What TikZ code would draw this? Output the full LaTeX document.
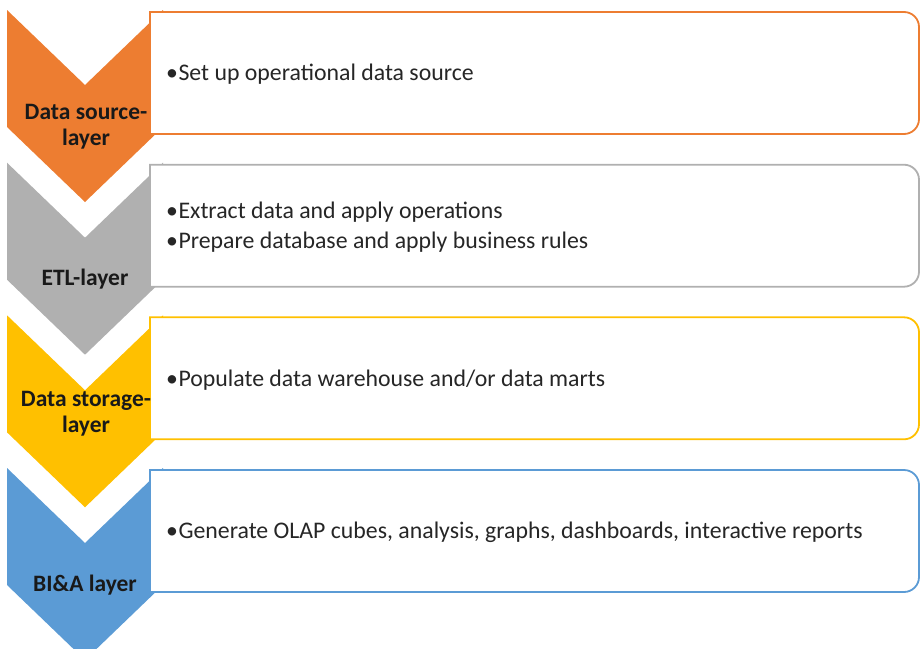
\documentclass[tikz,border=0pt]{standalone}
\usepackage{fontspec}
\setmainfont{Carlito}
\usepackage{tikz}
\usetikzlibrary{positioning, calc}
\definecolor{srcorange}{HTML}{ED7D31}
\definecolor{etlgray}{HTML}{B0B0B0}
\definecolor{storeyellow}{HTML}{FFC000}
\definecolor{biblue}{HTML}{5B9BD5}

\begin{document}
\begin{tikzpicture}[x=1pt,y=-1pt]
	\def \rowone{10}
	\def \rowtwo{162.7}
	\def \rowthree{315.3}
	\def \rowfour{468}
	\def \boxl{150}
	\def \boxr{919}
	\tikzstyle{l-box}=[fill=white,line width=1.8pt]
	\tikzstyle{l-lbl}=[text centered,align=center,font=\fontsize{23.5}{26}\selectfont\bfseries,inner sep=0pt,text=black!90]
	\tikzstyle{b-txt}=[anchor=west,font=\fontsize{23.8}{30}\selectfont,align=left,inner sep=0pt,text=black!85]
	\useasboundingbox (0,0) rectangle (921,648);

	% chevrons
	\fill[srcorange] (7,\rowone) -- (85,\rowone+75) -- (163,\rowone) -- (163,\rowone+117) -- (85,\rowone+192) -- (7,\rowone+117) -- cycle;
	\fill[etlgray] (7,\rowtwo) -- (85,\rowtwo+75) -- (163,\rowtwo) -- (163,\rowtwo+117) -- (85,\rowtwo+192) -- (7,\rowtwo+117) -- cycle;
	\fill[storeyellow] (7,\rowthree) -- (85,\rowthree+75) -- (163,\rowthree) -- (163,\rowthree+117) -- (85,\rowthree+192) -- (7,\rowthree+117) -- cycle;
	\fill[biblue] (7,\rowfour) -- (85,\rowfour+75) -- (163,\rowfour) -- (163,\rowfour+117) -- (85,\rowfour+192) -- (7,\rowfour+117) -- cycle;

	% boxes
	\draw[l-box,draw=srcorange] (\boxl,\rowone+2) -- (500,\rowone+2) [rounded corners=15] -- (\boxr,\rowone+2) -- (\boxr,\rowone+124) -- (500,\rowone+124) [sharp corners] -- (\boxl,\rowone+124) -- cycle;
	\draw[l-box,draw=etlgray] (\boxl,\rowtwo+2) -- (500,\rowtwo+2) [rounded corners=15] -- (\boxr,\rowtwo+2) -- (\boxr,\rowtwo+124) -- (500,\rowtwo+124) [sharp corners] -- (\boxl,\rowtwo+124) -- cycle;
	\draw[l-box,draw=storeyellow] (\boxl,\rowthree+2) -- (500,\rowthree+2) [rounded corners=15] -- (\boxr,\rowthree+2) -- (\boxr,\rowthree+124) -- (500,\rowthree+124) [sharp corners] -- (\boxl,\rowthree+124) -- cycle;
	\draw[l-box,draw=biblue] (\boxl,\rowfour+2) -- (500,\rowfour+2) [rounded corners=15] -- (\boxr,\rowfour+2) -- (\boxr,\rowfour+124) -- (500,\rowfour+124) [sharp corners] -- (\boxl,\rowfour+124) -- cycle;

	% layer names
	\node[l-lbl] (lbl0) at (86,127) {Data source-\\layer};
	\node[l-lbl] (lbl1) at (85,279) {ETL-layer};
	\node[l-lbl] (lbl2) at (86,414) {Data storage-\\layer};
	\node[l-lbl] (lbl3) at (85,585) {BI\&A layer};

	% tasks
	\node[b-txt] (txt0) at (166,74) {\textbullet\hspace{0.5pt}Set up operational data source};
	\node[b-txt] (txt1) at (166,227) {\textbullet\hspace{0.5pt}Extract data and apply operations\\\textbullet\hspace{0.5pt}Prepare database and apply business rules};
	\node[b-txt] (txt2) at (166,380) {\textbullet\hspace{0.5pt}Populate data warehouse and/or data marts};
	\node[b-txt] (txt3) at (166,532) {\textbullet\hspace{0.5pt}Generate OLAP cubes, analysis, graphs, dashboards, interactive reports};
\end{tikzpicture}
\end{document}
